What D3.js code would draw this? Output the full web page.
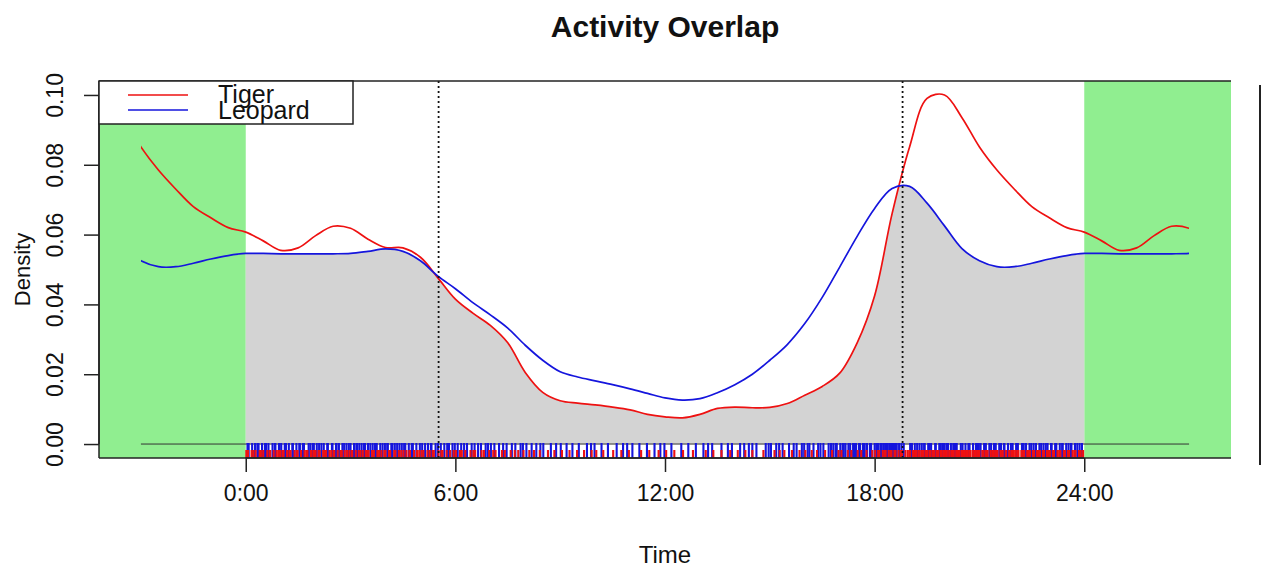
<!DOCTYPE html>
<html>
<head>
<meta charset="utf-8">
<script src="https://cdn.jsdelivr.net/npm/d3@7"></script>
<style>
  body { margin: 0; background: #fff; }
  svg { display: block; font-family: "Liberation Sans", Arial, Helvetica, sans-serif; }
</style>
</head>
<body>
<svg id="chart" width="1265" height="568"></svg>
<script>
// Kernel density estimates on a half-hour grid (clock hours 0–24, circular: 24 == 0)
const gridHours = [0,0.5,1,1.5,2,2.5,3,3.5,4,4.5,5,5.5,6,6.5,7,7.5,8,8.5,9,9.5,10,10.5,11,11.5,
                   12,12.5,13,13.5,14,14.5,15,15.5,16,16.5,17,17.5,18,18.5,19,19.5,20,20.5,21,21.5,
                   22,22.5,23,23.5,24];
const tigerDensity = [0.0607,0.0582,0.0555,0.0562,0.0597,0.0624,0.0618,0.0587,0.0563,0.0562,
                      0.0535,0.0476,0.0415,0.0375,0.0340,0.0290,0.0205,0.0148,0.0124,0.0117,
                      0.0112,0.0106,0.0098,0.0085,0.0078,0.0075,0.0085,0.0102,0.0106,0.0104,
                      0.0105,0.0116,0.0140,0.0165,0.0203,0.0290,0.0425,0.0660,0.0851,0.0990,
                      0.1000,0.0935,0.0851,0.0785,0.0730,0.0680,0.0648,0.0620,0.0607];
const leopardDensity = [0.0546,0.0546,0.0545,0.0545,0.0545,0.0545,0.0546,0.0552,0.0559,0.0552,
                        0.0525,0.0481,0.0445,0.0405,0.0370,0.0332,0.0283,0.0240,0.0207,0.0192,
                        0.0181,0.0170,0.0158,0.0145,0.0132,0.0126,0.0130,0.0147,0.0170,0.0200,
                        0.0240,0.0285,0.0345,0.0420,0.0507,0.0595,0.0675,0.0732,0.0738,0.0690,
                        0.0625,0.0560,0.0525,0.0508,0.0508,0.0518,0.0530,0.0540,0.0546];

// Detection times (minutes after midnight), one rug tick each
const tigerMinutes = [
  1,4,10,13,17,24,26,30,37,41,42,48,53,56,59,
  63,65,71,75,77,84,88,89,95,101,104,106,112,116,119,
  120,125,127,133,136,138,144,147,151,152,158,163,165,170,174,178,
  182,183,189,194,197,201,206,208,211,217,220,226,229,233,238,
  240,246,248,255,257,263,267,271,276,281,282,289,294,298,
  302,305,312,316,321,323,331,336,338,345,351,357,
  361,368,371,377,386,391,394,405,409,418,
  425,429,440,445,455,462,468,477,
  487,495,505,519,530,543,
  556,569,581,594,
  602,614,631,645,658,
  679,693,709,
  722,736,751,768,
  790,803,817,832,
  845,858,870,889,
  908,917,925,938,951,
  961,972,981,995,1007,1018,
  1023,1034,1040,1051,1057,1066,1076,
  1081,1086,1088,1094,1097,1099,1104,1107,1109,1114,1116,1121,1125,1127,1133,1137,
  1140,1141,1146,1148,1150,1151,1155,1156,1160,1162,1163,1167,1169,1170,1174,1175,1179,1181,1182,1186,1188,1189,1193,1195,1198,
  1201,1203,1204,1208,1209,1213,1214,1216,1220,1223,1225,1226,1230,1233,1235,1238,1240,1243,1244,1248,1251,1253,1256,1259,
  1260,1265,1266,1270,1273,1274,1279,1282,1284,1287,1290,1291,1296,1299,1300,1305,1306,1311,1312,1316,1319,
  1322,1325,1327,1332,1335,1337,1342,1345,1347,1352,1354,1359,1362,1364,1369,1371,1376,1379,
  1381,1386,1388,1394,1397,1399,1405,1407,1412,1414,1420,1423,1425,1431,1434,1438
];
const leopardMinutes = [
  3,5,11,16,20,22,28,33,35,39,46,50,51,57,58,
  61,67,69,74,80,81,87,92,93,98,100,108,111,115,117,
  122,126,130,134,140,141,148,149,155,156,160,166,169,173,177,
  180,186,187,191,195,199,203,205,210,214,218,222,225,231,235,
  239,243,244,250,252,256,260,264,268,272,274,280,285,287,293,
  299,303,308,313,318,319,326,330,335,341,346,349,355,
  359,364,370,375,380,388,393,399,404,412,416,
  421,427,435,442,448,457,463,472,476,
  482,491,499,506,511,524,533,541,551,
  561,572,586,593,599,611,
  622,637,648,655,664,676,
  689,702,712,719,731,
  748,760,773,786,794,
  801,817,828,835,849,
  856,864,870,877,893,898,902,
  911,916,922,933,941,946,955,959,
  965,968,975,983,987,992,1001,1005,1009,1013,1015,
  1021,1025,1027,1030,1035,1038,1043,1045,1048,1053,1055,1060,1063,1067,1072,1074,
  1080,1083,1084,1087,1091,1092,1095,1098,1101,1102,1105,1108,1111,1112,1115,1118,1122,1126,1130,
  1141,1143,1144,1149,1153,1157,1161,1165,1166,1172,1174,1177,1184,1185,1191,1193,1196,1199,
  1203,1206,1211,1215,1218,1221,1228,1231,1236,1241,1243,1249,1254,1257,1259,
  1262,1268,1271,1277,1280,1285,1288,1294,1297,1302,1303,1309,1314,1317,
  1323,1326,1333,1336,1340,1346,1349,1353,1357,1363,1366,1370,1374,1377,
  1383,1384,1390,1392,1398,1402,1403,1409,1413,1417,1418,1424,1428,1432,1436
];

const sunTimes = [5.52, 18.8];                 // sunrise / sunset (h)
const plotRange = [-3, 27];                     // extended clock range drawn
const xTicks = [0, 6, 12, 18, 24];
const xTickLabels = ["0:00", "6:00", "12:00", "18:00", "24:00"];
const yTicks = [0, 0.02, 0.04, 0.06, 0.08, 0.10];
const seriesNames = ["Tiger", "Leopard"];
const seriesColors = ["#ee1111", "#1515dd"];

const svg = d3.select("#chart");
const box = { left: 99, right: 1231, top: 81, bottom: 458 };

const xPad = (plotRange[1] - plotRange[0]) * 0.04;
const x = d3.scaleLinear()
  .domain([plotRange[0] - xPad, plotRange[1] + xPad])
  .range([box.left, box.right]);
const yMax = d3.max([...tigerDensity, ...leopardDensity]);
const y = d3.scaleLinear()
  .domain([-0.04 * yMax, 1.04 * yMax])
  .range([box.bottom, box.top]);

// wrap a 0–24 h curve so it covers the whole extended range
function wrapCurve(vals) {
  const pts = [];
  gridHours.forEach((h, i) => { if (h >= 24 + plotRange[0] - 0.5 && h < 24) pts.push([h - 24, vals[i]]); });
  gridHours.forEach((h, i) => pts.push([h, vals[i]]));
  gridHours.forEach((h, i) => { if (h > 0 && h <= plotRange[1] - 24 + 0.5) pts.push([h + 24, vals[i]]); });
  return pts;
}
const dayCurve = vals => {
  // include one neighbour on each side so the spline shape matches the full curve
  const pts = [[-0.5, vals[vals.length - 2]]];
  gridHours.forEach((h, i) => pts.push([h, vals[i]]));
  pts.push([24.5, vals[1]]);
  return pts;
};

const smooth = d3.curveCatmullRom.alpha(0.5);
const line = d3.line().x(d => x(d[0])).y(d => y(d[1])).curve(smooth);
const area = d3.area().x(d => x(d[0])).y0(y(0)).y1(d => y(d[1])).curve(smooth);

// clip drawing of curves to plotRange
svg.append("clipPath").attr("id", "curve-range")
  .append("rect")
  .attr("x", x(plotRange[0])).attr("width", x(plotRange[1]) - x(plotRange[0]))
  .attr("y", 0).attr("height", 568);
svg.append("clipPath").attr("id", "day-range")
  .append("rect")
  .attr("x", x(0)).attr("width", x(24) - x(0))
  .attr("y", 0).attr("height", 568);

// shaded extension zones outside 0–24 h
svg.append("rect")
  .attr("x", x.range()[0]).attr("y", box.top)
  .attr("width", x(0) - x.range()[0]).attr("height", box.bottom - box.top)
  .attr("fill", "#90ee90");
svg.append("rect")
  .attr("x", x(24)).attr("y", box.top)
  .attr("width", x.range()[1] - x(24)).attr("height", box.bottom - box.top)
  .attr("fill", "#90ee90");

// overlap = area under both curves (tiger area clipped by leopard area)
svg.append("clipPath").attr("id", "under-leopard")
  .append("path").attr("d", area(dayCurve(leopardDensity)));
svg.append("g").attr("clip-path", "url(#day-range)")
  .append("path")
  .attr("d", area(dayCurve(tigerDensity)))
  .attr("fill", "#d3d3d3")
  .attr("clip-path", "url(#under-leopard)");

// zero baseline
svg.append("line")
  .attr("x1", x(plotRange[0])).attr("x2", x(plotRange[1]))
  .attr("y1", y(0)).attr("y2", y(0))
  .attr("stroke", "#333").attr("stroke-width", 1);

// density curves
const curves = svg.append("g").attr("clip-path", "url(#curve-range)");
[tigerDensity, leopardDensity].forEach((vals, k) => {
  curves.append("path")
    .attr("d", line(wrapCurve(vals)))
    .attr("fill", "none")
    .attr("stroke", seriesColors[k])
    .attr("stroke-width", 1.7);
});

// rug of detection times along the bottom edge
const rug = svg.append("g");
rug.selectAll("line.leo").data(leopardMinutes).join("line")
  .attr("class", "leo")
  .attr("x1", d => x(d / 60)).attr("x2", d => x(d / 60))
  .attr("y1", box.bottom).attr("y2", box.bottom - 15)
  .attr("stroke", seriesColors[1]).attr("stroke-width", 2.1);
rug.selectAll("line.tig").data(tigerMinutes).join("line")
  .attr("class", "tig")
  .attr("x1", d => x(d / 60)).attr("x2", d => x(d / 60))
  .attr("y1", box.bottom).attr("y2", box.bottom - 8)
  .attr("stroke", seriesColors[0]).attr("stroke-width", 2.1);

// sunrise / sunset markers
svg.selectAll("line.sun").data(sunTimes).join("line")
  .attr("class", "sun")
  .attr("x1", d => x(d)).attr("x2", d => x(d))
  .attr("y1", box.top).attr("y2", box.bottom)
  .attr("stroke", "#111").attr("stroke-width", 1.8)
  .attr("stroke-dasharray", "2,3");

// plot frame
const frame = svg.append("g").attr("stroke", "#222").attr("stroke-width", 1.5);
frame.append("line").attr("x1", box.left).attr("x2", box.right).attr("y1", box.top).attr("y2", box.top);
frame.append("line").attr("x1", box.left).attr("x2", box.right).attr("y1", box.bottom).attr("y2", box.bottom);
frame.append("line").attr("x1", box.left).attr("x2", box.left).attr("y1", box.top).attr("y2", box.bottom);
svg.append("line").attr("x1", 1260).attr("x2", 1260).attr("y1", 85).attr("y2", 465)
  .attr("stroke", "#222").attr("stroke-width", 2);

// axes
const xAxis = svg.append("g")
  .attr("transform", `translate(0,${box.bottom})`)
  .call(d3.axisBottom(x).tickValues(xTicks).tickFormat((d, i) => xTickLabels[i])
    .tickSize(14).tickSizeOuter(0).tickPadding(13));
xAxis.select(".domain").attr("d", `M${x(xTicks[0])},0H${x(xTicks[xTicks.length - 1])}`)
  .attr("stroke", "#222").attr("stroke-width", 1.5);
xAxis.selectAll(".tick line").attr("stroke", "#222").attr("stroke-width", 1.5);
xAxis.selectAll(".tick text").attr("font-size", 23).attr("fill", "#111")
  .attr("font-family", "Liberation Sans, Arial, sans-serif");

const yAxis = svg.append("g")
  .attr("transform", `translate(${box.left},0)`)
  .call(d3.axisLeft(y).tickValues(yTicks).tickFormat(d3.format(".2f"))
    .tickSize(15).tickSizeOuter(0));
yAxis.select(".domain").attr("d", `M0,${y(yTicks[0])}V${y(yTicks[yTicks.length - 1])}`)
  .attr("stroke", "#222").attr("stroke-width", 1.5);
yAxis.selectAll(".tick line").attr("stroke", "#222").attr("stroke-width", 1.5);
yAxis.selectAll(".tick text")
  .attr("transform", "rotate(-90)")
  .attr("x", 0).attr("y", -36).attr("dy", 0)
  .attr("text-anchor", "middle")
  .attr("font-size", 23).attr("fill", "#111")
  .attr("font-family", "Liberation Sans, Arial, sans-serif");

// titles
svg.append("text")
  .attr("x", (box.left + box.right) / 2).attr("y", 37)
  .attr("text-anchor", "middle").attr("font-weight", "bold").attr("font-size", 30)
  .attr("fill", "#111").text("Activity Overlap");
svg.append("text")
  .attr("x", (box.left + box.right) / 2).attr("y", 563)
  .attr("text-anchor", "middle").attr("font-size", 24).attr("fill", "#111").text("Time");
svg.append("text")
  .attr("transform", `translate(30,${(box.top + box.bottom) / 2}) rotate(-90)`)
  .attr("text-anchor", "middle").attr("font-size", 22).attr("fill", "#111").text("Density");

// legend
const legend = svg.append("g");
legend.append("rect")
  .attr("x", box.left).attr("y", box.top).attr("width", 254).attr("height", 43)
  .attr("fill", "#fff").attr("stroke", "#222").attr("stroke-width", 1.5);
seriesNames.forEach((name, i) => {
  legend.append("line")
    .attr("x1", 128).attr("x2", 188)
    .attr("y1", 95 + i * 15).attr("y2", 95 + i * 15)
    .attr("stroke", seriesColors[i]).attr("stroke-width", 1.7);
  legend.append("text")
    .attr("x", 218).attr("y", 103 + i * 16)
    .attr("font-size", 25).attr("fill", "#111").text(name);
});
</script>
</body>
</html>
